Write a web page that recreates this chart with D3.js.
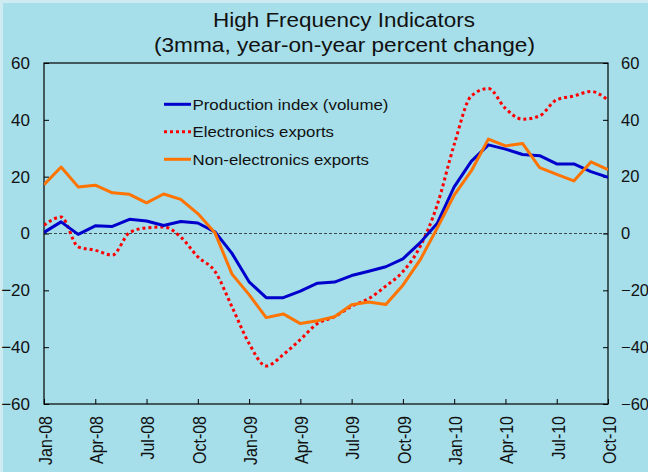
<!DOCTYPE html>
<html>
<head>
<meta charset="utf-8">
<script src="https://cdn.jsdelivr.net/npm/d3@7"></script>
<style>
  html, body { margin: 0; padding: 0; background: #cdebf1; }
  svg { display: block; }
  text { font-family: "Liberation Sans", Arial, sans-serif; fill: #111; }
</style>
</head>
<body>
<svg id="chart"></svg>
<script>
const months = ['Jan-08','Feb-08','Mar-08','Apr-08','May-08','Jun-08','Jul-08','Aug-08','Sep-08','Oct-08','Nov-08','Dec-08',
                'Jan-09','Feb-09','Mar-09','Apr-09','May-09','Jun-09','Jul-09','Aug-09','Sep-09','Oct-09','Nov-09','Dec-09',
                'Jan-10','Feb-10','Mar-10','Apr-10','May-10','Jun-10','Jul-10','Aug-10','Sep-10','Oct-10'];

const production = [0.4, 4.1, -0.3, 2.7, 2.5, 5.0, 4.4, 2.8, 4.2, 3.7, 0.6, -7.0,
                    -17.0, -22.6, -22.6, -20.3, -17.5, -17.1, -14.8, -13.3, -11.7, -8.9, -3.3, 3.5,
                    16.4, 25.4, 31.2, 29.7, 27.8, 27.4, 24.5, 24.5, 21.8, 19.8];

const electronics = [2.9, 5.8, -4.7, -5.9, -7.6, 0.3, 2.0, 2.3, -1.2, -8.2, -13.3, -25.8,
                     -38.7, -46.6, -42.6, -37.3, -31.7, -29.3, -25.6, -22.9, -18.5, -13.4, -4.7, 9.9,
                     31.3, 48.4, 51.0, 44.0, 40.2, 41.4, 47.1, 48.4, 50.0, 46.9];

const nonElectronics = [17.2, 23.4, 16.4, 17.0, 14.3, 13.8, 10.8, 13.9, 12.0, 7.0, 0.3, -14.3,
                        -21.5, -29.6, -28.3, -31.7, -30.7, -29.3, -25.1, -24.1, -25.0, -18.2, -9.4, 1.8,
                        13.5, 22.0, 33.2, 30.8, 31.7, 23.2, 20.8, 18.5, 25.2, 22.5];

const yTicks = [-60, -40, -20, 0, 20, 40, 60];
const xTickLabels = ['Jan-08','Apr-08','Jul-08','Oct-08','Jan-09','Apr-09','Jul-09','Oct-09','Jan-10','Apr-10','Jul-10','Oct-10'];

const W = 648, H = 472;
const svg = d3.select('#chart').attr('width', W).attr('height', H);

svg.append('rect')
  .attr('x', 3).attr('y', 3)
  .attr('width', W - 3).attr('height', H - 3)
  .attr('fill', '#a6dee9');

const margin = {top: 63, right: 40, bottom: 68, left: 44};
const width  = W - margin.left - margin.right;
const height = H - margin.top - margin.bottom;

const x = d3.scalePoint().domain(months).range([0, width]);
const y = d3.scaleLinear().domain([-60, 60]).range([height, 0]);

const g = svg.append('g')
  .attr('transform', `translate(${margin.left}, ${margin.top})`);

// zero line
g.append('line')
  .attr('x1', 0).attr('x2', width)
  .attr('y1', y(0)).attr('y2', y(0))
  .attr('stroke', '#222')
  .attr('stroke-width', 0.8)
  .attr('stroke-dasharray', '3,2');

// axes
let xAxis = d3.axisBottom(x).tickValues(xTickLabels).tickSizeInner(-5).tickSizeOuter(0);
let yAxisL = d3.axisLeft(y).tickValues(yTicks).tickSizeInner(-5).tickSizeOuter(0).tickPadding(14);
let yAxisR = d3.axisRight(y).tickValues(yTicks).tickSizeInner(-5).tickSizeOuter(0).tickPadding(13);

const gx = g.append('g')
  .attr('transform', `translate(0, ${height})`)
  .call(xAxis);
gx.selectAll('.tick text')
  .attr('x', 0).attr('y', 0)
  .attr('dy', null)
  .attr('transform', 'translate(1.5, 12) rotate(-90) scale(1, 1.12)')
  .attr('text-anchor', 'end')
  .attr('dominant-baseline', 'central')
  .style('font-size', '16px');

const gl = g.append('g').call(yAxisL);
const gr = g.append('g').attr('transform', `translate(${width}, 0)`).call(yAxisR);

[gx, gl, gr].forEach(function(a) {
  a.select('.domain').remove();
  a.selectAll('line').attr('stroke', '#000');
});
gl.selectAll('text').style('font-size', '17px');
gr.selectAll('text').style('font-size', '16.5px');

// frame
g.append('rect')
  .attr('width', width).attr('height', height)
  .attr('fill', 'none')
  .attr('stroke', '#000')
  .attr('stroke-width', 1.2);

g.append('defs').append('clipPath').attr('id', 'clip')
  .append('rect').attr('width', width).attr('height', height);

const lines = g.append('g').attr('clip-path', 'url(#clip)');

let lineLinear = d3.line()
  .x(function(d, i) { return x(months[i]); })
  .y(function(d) { return y(d); });

let lineSmooth = d3.line()
  .x(function(d, i) { return x(months[i]); })
  .y(function(d) { return y(d); })
  .curve(d3.curveMonotoneX);

lines.append('path')
  .datum(electronics)
  .attr('d', lineSmooth)
  .attr('fill', 'none')
  .attr('stroke', '#ff0000')
  .attr('stroke-width', 3)
  .attr('stroke-dasharray', '3,3');

lines.append('path')
  .datum(production)
  .attr('d', lineLinear)
  .attr('fill', 'none')
  .attr('stroke', '#0000cc')
  .attr('stroke-width', 3)
  .attr('stroke-linejoin', 'round');

lines.append('path')
  .datum(nonElectronics)
  .attr('d', lineLinear)
  .attr('fill', 'none')
  .attr('stroke', '#ff7300')
  .attr('stroke-width', 3)
  .attr('stroke-linejoin', 'round');

// legend
const legendItems = [
  {label: 'Production index (volume)', color: '#0000cc', dash: null, len: 196},
  {label: 'Electronics exports', color: '#ff0000', dash: '3,3', len: 141.5},
  {label: 'Non-electronics exports', color: '#ff7300', dash: null, len: 176.5}
];
const legend = svg.append('g');
legendItems.forEach(function(d, i) {
  let ly = 104.3 + i * 27.5;
  legend.append('line')
    .attr('x1', 164).attr('x2', 191)
    .attr('y1', ly).attr('y2', ly)
    .attr('stroke', d.color)
    .attr('stroke-width', 3)
    .attr('stroke-dasharray', d.dash);
  legend.append('text')
    .attr('x', 192.5).attr('y', ly)
    .attr('dy', '0.36em')
    .attr('textLength', d.len)
    .attr('lengthAdjust', 'spacingAndGlyphs')
    .style('font-size', '15px')
    .text(d.label);
});

// title
svg.append('text')
  .attr('x', 213).attr('y', 26.7)
  .attr('textLength', 262)
  .attr('lengthAdjust', 'spacingAndGlyphs')
  .style('font-size', '20.5px')
  .text('High Frequency Indicators');
svg.append('text')
  .attr('x', 154).attr('y', 51.5)
  .attr('textLength', 381)
  .attr('lengthAdjust', 'spacingAndGlyphs')
  .style('font-size', '21px')
  .text('(3mma, year-on-year percent change)');
</script>
</body>
</html>
